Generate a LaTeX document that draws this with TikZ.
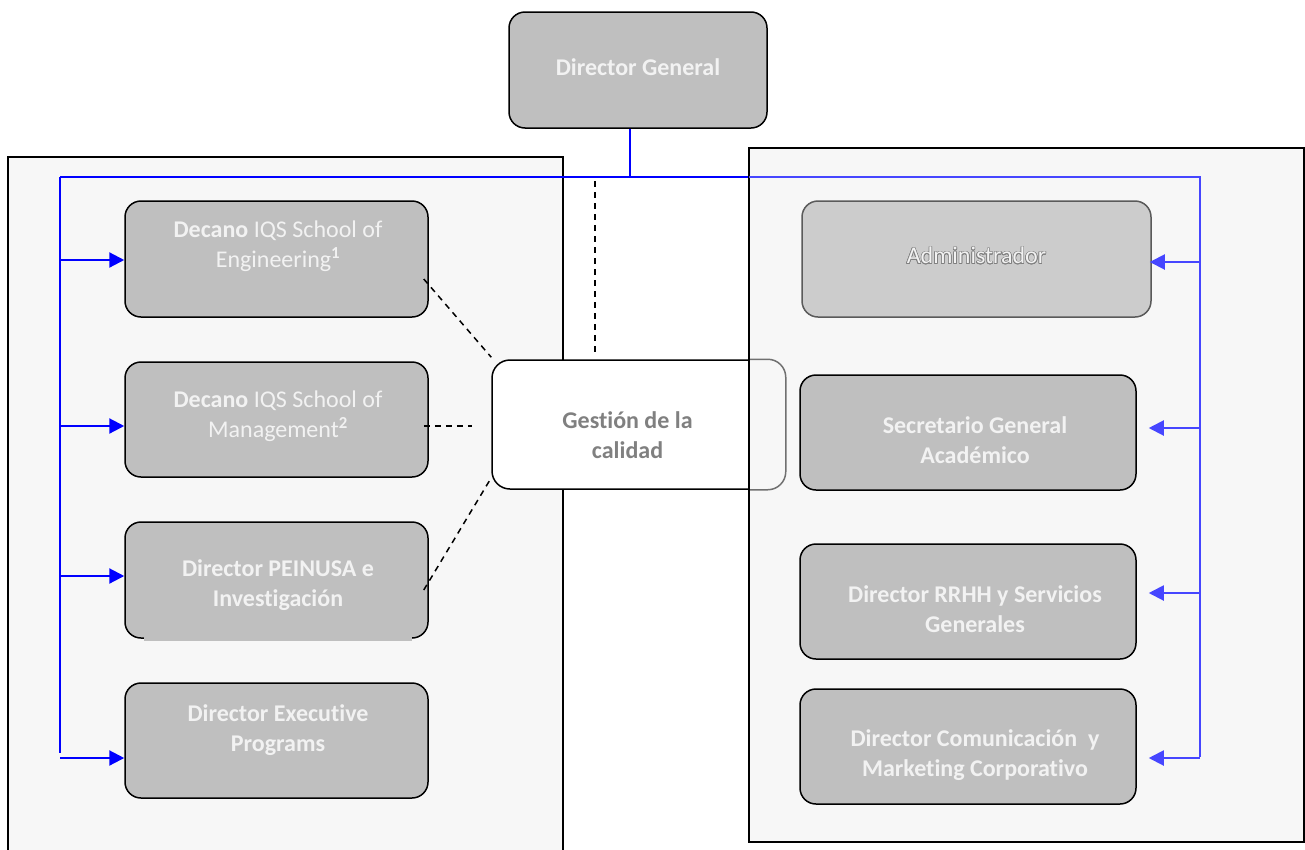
\documentclass[tikz,border=0pt]{standalone}
\usepackage{fontspec}
\setmainfont[Ligatures=NoCommon]{Carlito}
\usepackage{contour}
\contourlength{0.6pt}
\usetikzlibrary{arrows.meta,calc}
\definecolor{boxgray}{HTML}{BFBFBF}
\definecolor{panel}{HTML}{F7F7F7}
\definecolor{txtw}{HTML}{F2F2F2}
\definecolor{blueA}{HTML}{0000FF}
\definecolor{blueB}{HTML}{4646FF}
\definecolor{admfill}{HTML}{CCCCCC}
\definecolor{admline}{HTML}{5A5A5A}
\definecolor{gtext}{HTML}{808080}
\definecolor{gline}{HTML}{707070}
\begin{document}
\begin{tikzpicture}[x=1pt,y=-1pt,
  orgbox/.style={draw=black, line width=1.5pt, fill=boxgray, rounded corners=16pt, inner sep=0pt},
  admbox/.style={draw=admline, line width=1.5pt, fill=admfill, rounded corners=16pt, inner sep=0pt},
  gbox/.style={draw=black, line width=1.5pt, fill=white, rounded corners=18pt, inner sep=0pt},
  panelst/.style={draw=black, line width=1.5pt, fill=panel},
  lbl/.style={text=txtw, align=center, inner sep=0pt, font=\fontsize{24}{30}\selectfont},
  glbl/.style={text=gtext, align=center, inner sep=0pt, font=\fontsize{24}{30}\selectfont\bfseries},
  bla/.style={draw=blueA, line width=2.2pt},
  blb/.style={draw=blueB, line width=2pt},
  arra/.style={bla, -{Triangle[length=15pt,width=15pt]}},
  arrb/.style={blb, -{Triangle[length=15pt,width=15pt]}},
  dl/.style={draw=black, line width=1.5pt, dash pattern=on 6pt off 5pt}]
\useasboundingbox (0,0) rectangle (1305,849);
\fill[white] (0,0) rectangle (1305,849);

% left panel
\draw[panelst] (8,157) rectangle (563,860);

% Director General
\node[orgbox, minimum width=258pt, minimum height=116pt] (dg) at (638,70) {};
\node[lbl] (dgt) at (638,67) {\bfseries Director General};

% top blue connector (left part)
\coordinate (j) at (630,177);
\coordinate (lt) at (60,177);
\coordinate (pm) at (749,177);
\coordinate (rt) at (1200,177);
\draw[bla] (j |- dg.south) -- (j);
\draw[bla] (lt) -- (pm);
\coordinate (lb) at (60,753);
\draw[bla] (lt) -- (lb);

% Gestion de la calidad
\node[gbox, minimum width=293pt, minimum height=129pt] (g) at (638.5,424.5) {};
\node[glbl] (gt) at (627.5,435) {Gestión de la\\calidad};

% right panel
\fill[panel] (749,148) rectangle (1304,842);
\begin{scope}
  \clip (749,148) rectangle (1304,842);
  \draw[draw=gline, line width=1.5pt, rounded corners=18pt] (g.north west) rectangle (g.south east);
\end{scope}
\draw[line width=1.5pt] (749,148) rectangle (1304,842);

% right blue connector
\coordinate (rb) at (1200,757);
\draw[blb] (pm) -- (rt) -- (rb);

% left boxes
\node[orgbox, minimum width=303pt, minimum height=116pt] (e1) at (276.5,259) {};
\node[lbl] (e1t) at (278,246) {\textbf{Decano} IQS School of\\Engineering\textsuperscript{\textbf{1}}};
\node[orgbox, minimum width=303pt, minimum height=115pt] (e2) at (276.5,419.5) {};
\node[lbl] (e2t) at (278,416) {\textbf{Decano} IQS School of\\Management\textsuperscript{\textbf{2}}};
\node[orgbox, minimum width=303pt, minimum height=116pt] (e3) at (276.5,580) {};
\fill[boxgray] (144,636) rectangle (412,641);
\node[lbl] (e3t) at (278,585) {\bfseries Director PEINUSA e\\\bfseries Investigación};
\node[orgbox, minimum width=303pt, minimum height=115pt] (e4) at (276.5,740.5) {};
\node[lbl] (e4t) at (278,730) {\bfseries Director Executive\\\bfseries Programs};

% left arrows
\coordinate (l1) at (60,260);
\coordinate (l2) at (60,426);
\coordinate (l3) at (60,576);
\coordinate (l4) at (60,758);
\draw[arra] (l1) -- (l1 -| e1.west);
\draw[arra] (l2) -- (l2 -| e2.west);
\draw[arra] (l3) -- (l3 -| e3.west);
\draw[arra] (l4) -- (l4 -| e4.west);

% dashed links to Gestion
\draw[dl] ($(e1.east)+(-5,20)$) -- ($(g.north west)+(0,-2)$);
\draw[dl] ($(e2.east |- l2)+(-5,0)$) -- ($(g.west |- l2)+(-19,0)$);
\draw[dl] ($(e3.east)+(-5,10)$) -- ($(g.south west)+(0,-12)$);
\coordinate (dv) at (595,181);
\draw[dl] (dv) -- ($(g.north -| dv)+(0,-5)$);

% right boxes
\node[admbox, minimum width=349pt, minimum height=116pt] (a1) at (976.5,259) {};
\node[lbl] (a1t) at (976.5,256) {\contour{gray}{\textcolor{txtw}{Administrador}}};
\node[orgbox, minimum width=336pt, minimum height=115pt] (a2) at (968,432.5) {};
\node[lbl] (a2t) at (975,440) {\bfseries Secretario General\\\bfseries Académico};
\node[orgbox, minimum width=336pt, minimum height=115pt] (a3) at (968,601.5) {};
\node[lbl] (a3t) at (975,609) {\bfseries Director RRHH y Servicios\\\bfseries Generales};
\node[orgbox, minimum width=336pt, minimum height=115pt] (a4) at (968,746.5) {};
\node[lbl] (a4t) at (975,755) {\bfseries Director Comunicación~ y\\\bfseries Marketing Corporativo};

% right arrows
\coordinate (r1) at (1200,262);
\coordinate (r2) at (1200,428);
\coordinate (r3) at (1200,593);
\coordinate (r4) at (1200,758);
\draw[arrb] (r1) -- ($(r1 -| a1.east)+(-2,0)$);
\draw[arrb] (r2) -- ($(r2 -| a2.east)+(12,0)$);
\draw[arrb] (r3) -- ($(r3 -| a3.east)+(12,0)$);
\draw[arrb] (r4) -- ($(r4 -| a4.east)+(12,0)$);
\end{tikzpicture}
\end{document}
